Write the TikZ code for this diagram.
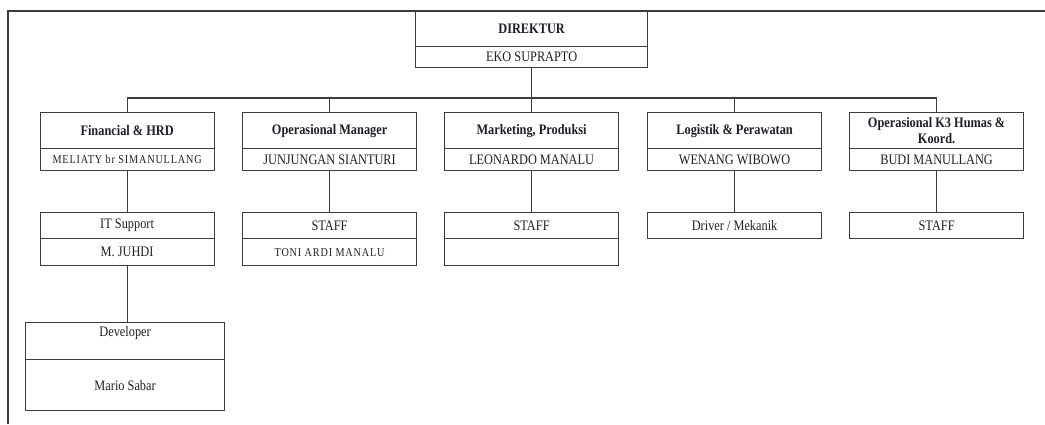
\documentclass[tikz,border=0pt]{standalone}
\usepackage{fontspec}
\setmainfont{Liberation Serif}[FakeStretch=0.85]
\newfontfamily\spacedfont{Liberation Serif}[FakeStretch=0.85,LetterSpace=7]
\definecolor{linec}{HTML}{3C3C3C}
\definecolor{txtc}{HTML}{1E1E28}
\begin{document}
\begin{tikzpicture}[x=1pt,y=-1pt,
  cell/.style={draw=linec,line width=1.2pt,inner sep=0pt,align=center,anchor=north west,text=txtc,font=\fontsize{14.5}{16}\selectfont},
  head/.style={cell,font=\fontsize{14.5}{16}\selectfont\bfseries},
  wide/.style={minimum width=174pt},
  hh/.style={wide,minimum height=36pt},
  nh/.style={wide,minimum height=22pt},
  sh/.style={wide,minimum height=26pt},
  sn/.style={wide,minimum height=27pt},
  conn/.style={draw=linec,line width=1.2pt},
  smallsp/.style={font=\spacedfont\fontsize{12}{13}\selectfont}]
\useasboundingbox (0,0) rectangle (1045,424);
% frame
\draw[conn] (8,424) -- (8,11) -- (1045,11);
% director
\node[head,minimum width=232pt,minimum height=35pt] (dirh) at (415,11) {DIREKTUR};
\node[cell,minimum width=232pt,minimum height=21pt] (dirn) at (415,46) {EKO SUPRAPTO};
% level 2
\node[head,hh] (h1) at (39.5,112) {Financial \& HRD};
\node[cell,nh,smallsp] (n1) at (39.5,148) {MELIATY\ br\ SIMANULLANG};
\node[head,hh] (h2) at (242,112) {Operasional Manager};
\node[cell,nh] (n2) at (242,148) {JUNJUNGAN SIANTURI};
\node[head,hh] (h3) at (444,112) {Marketing, Produksi};
\node[cell,nh] (n3) at (444,148) {LEONARDO MANALU};
\node[head,hh] (h4) at (647,112) {Logistik \& Perawatan};
\node[cell,nh] (n4) at (647,148) {WENANG WIBOWO};
\node[head,hh] (h5) at (849,112) {Operasional K3 Humas \&\\Koord.};
\node[cell,nh] (n5) at (849,148) {BUDI MANULLANG};
% level 3
\node[cell,sh] (s1h) at (39.5,212) {IT Support};
\node[cell,sn] (s1n) at (39.5,238) {M. JUHDI};
\node[cell,sh] (s2h) at (242,212) {STAFF};
\node[cell,sn,smallsp] (s2n) at (242,238) {TONI\ ARDI\ MANALU};
\node[cell,sh] (s3h) at (444,212) {STAFF};
\node[cell,sn] (s3n) at (444,238) {};
\node[cell,sh] (s4h) at (647,212) {Driver /\ Mekanik};
\node[cell,sh] (s5h) at (849,212) {STAFF};
% level 4
\node[cell,minimum width=199pt,minimum height=37pt,
  label={[anchor=north,inner sep=0pt,yshift=-4pt,text=txtc,font=\fontsize{14.5}{16}\selectfont]north:Developer}] (devh) at (25,322) {};
\node[cell,minimum width=199pt,minimum height=51pt] (devn) at (25,359) {Mario Sabar};
% connectors
\draw[conn] (dirn.south) -- (h3.north);
\draw[conn] (h1.north) -- ++(0,-14) -| (h5.north);
\draw[conn] (h2.north) -- ++(0,-14);
\draw[conn] (h4.north) -- ++(0,-14);
\foreach \k in {1,...,5} {\draw[conn] (n\k.south) -- (s\k h.north);}
\draw[conn] (s1n.south) -- (s1n.south |- devh.north);
\end{tikzpicture}
\end{document}
